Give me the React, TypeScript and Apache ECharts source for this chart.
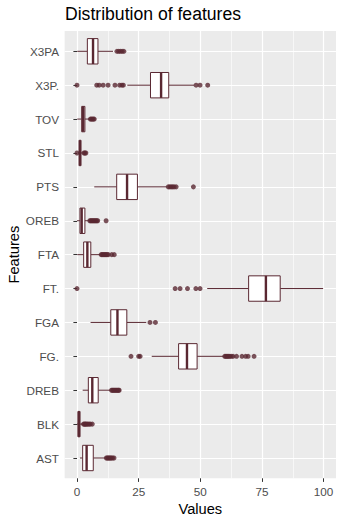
import React, { useEffect, useRef } from "react";
import * as echarts from "echarts";

const categories = ["AST", "BLK", "DREB", "FG.", "FGA", "FT.", "FTA", "OREB", "PTS", "STL", "TOV", "X3P.", "X3PA"];
const whiskerLow = [1.2, 0, 2.3, 30.3, 5.5, 52.8, 0.1, 0, 7.0, 0.4, 0.1, 20.4, 0.1];
const q1 = [2.3, 0.4, 4.6, 41.2, 13.7, 69.6, 2.7, 1.2, 16.1, 0.9, 1.9, 29.8, 4.2];
const median = [3.9, 0.8, 6.2, 44.6, 16.4, 76.6, 4.2, 1.9, 20.3, 1.2, 2.5, 34.1, 6.5];
const q3 = [6.6, 1.2, 8.6, 48.7, 20.2, 82.4, 5.6, 3.2, 24.5, 1.6, 3.2, 37.2, 8.5];
const whiskerHigh = [11.4, 2.3, 13.6, 59.5, 28.1, 99.8, 9.5, 4.8, 36.4, 2.6, 5.1, 47.5, 14.6];
const outliers: number[][] = [
  [11.9, 12.3, 12.7, 13.1, 13.5, 13.9, 14.4, 15.0],
  [2.6, 3.0, 3.3, 3.6, 4.0, 4.4, 4.9, 5.4, 6.2],
  [14.0, 14.4, 14.8, 15.2, 15.6, 16.0, 16.4, 16.8, 17.1],
  [21.9, 25.0, 25.6, 59.9, 60.3, 60.7, 61.1, 61.5, 62.0, 62.6, 63.3, 64.7, 66.9, 68.4, 69.4, 71.8],
  [29.6, 31.8],
  [0, 39.8, 41.8, 44.8, 48.2, 49.9],
  [9.8, 10.2, 10.6, 11.0, 11.4, 11.8, 12.2, 12.7, 14.1, 15.1],
  [5.2, 5.6, 6.0, 6.4, 6.8, 7.2, 7.6, 8.0, 8.4, 11.8],
  [37.0, 37.6, 38.2, 38.8, 39.4, 40.2, 47.2],
  [0, 2.8, 3.2, 3.6],
  [5.4, 5.8, 6.2, 6.6, 7.0],
  [0, 8.0, 9.0, 10.6, 12.6, 15.4, 17.3, 18.2, 18.8, 48.3, 49.9, 53.0],
  [16.2, 16.9, 17.6, 18.3, 19.0],
];
const xTicks = [0, 25, 50, 75, 100];

const COLOR = "#5A2832";
const FONT = "Liberation Sans, Arial, sans-serif";

export default function App() {
  const ref = useRef<HTMLDivElement>(null);
  useEffect(() => {
    if (!ref.current) return;
    const chart = echarts.init(ref.current, undefined, { renderer: "svg" });
    const half = 12.7;
    const option: any = {
      animation: false,
      backgroundColor: "#ffffff",
      title: {
        text: "Distribution of features",
        left: 65,
        top: 5,
        padding: 0,
        textStyle: { fontSize: 17.6, fontWeight: "normal", color: "#000", fontFamily: FONT },
      },
      graphic: [
        {
          type: "rect",
          z: -10,
          silent: true,
          shape: { x: 64.67, y: 31, width: 271.3, height: 447.3 },
          style: { fill: "#EBEBEB" },
        },
      ],
      grid: [
        { left: 64.67, right: 7.07, top: 51.3, bottom: 66, containLabel: false, outerBoundsMode: "none" },
        { left: 77, right: 19.4, top: 31, bottom: 45.7, containLabel: false, outerBoundsMode: "none" },
      ],
      xAxis: [
        { gridIndex: 0, type: "value", min: -5, max: 105, show: false },
        {
          gridIndex: 1,
          type: "value",
          min: xTicks[0],
          max: xTicks[xTicks.length - 1],
          interval: 25,
          axisLine: { show: false },
          axisTick: { show: true, length: 3.6, lineStyle: { color: "#333", width: 1 } },
          axisLabel: { margin: 7.5, color: "#4D4D4D", fontSize: 11.7, fontFamily: FONT },
          splitLine: { show: true, lineStyle: { color: "#fff", width: 1.2 } },
          minorTick: { show: false, splitNumber: 2 },
          minorSplitLine: { show: true, lineStyle: { color: "#fff", width: 0.6 } },
          name: "Values",
          nameLocation: "middle",
          nameGap: 23,
          nameMoveOverlap: false,
          nameTextStyle: { fontSize: 14.67, color: "#000", fontFamily: FONT },
        },
      ],
      yAxis: [
        {
          gridIndex: 0,
          type: "category",
          data: categories,
          boundaryGap: false,
          axisLine: { show: false },
          axisTick: { show: true, length: 3.6, lineStyle: { color: "#333", width: 1 } },
          axisLabel: { interval: 0, margin: 5.7, color: "#4D4D4D", fontSize: 11.7, fontFamily: FONT },
          splitLine: { show: true, interval: 0, lineStyle: { color: "#fff", width: 1.2 } },
          name: "Features",
          nameLocation: "middle",
          nameRotate: 90,
          nameGap: 43,
          nameMoveOverlap: false,
          nameTextStyle: { fontSize: 14.67, color: "#000", fontFamily: FONT },
        },
        { gridIndex: 1, type: "value", min: 0, max: 1, show: false },
      ],
      series: [
        {
          type: "custom",
          xAxisIndex: 0,
          yAxisIndex: 0,
          encode: { x: [1, 2, 3, 4, 5], y: 0 },
          data: categories.map((c, i) => [i, whiskerLow[i], q1[i], median[i], q3[i], whiskerHigh[i]]),
          renderItem: (params: any, api: any) => {
            const idx = api.value(0);
            const lo = api.coord([api.value(1), idx]);
            const a = api.coord([api.value(2), idx]);
            const m = api.coord([api.value(3), idx]);
            const b = api.coord([api.value(4), idx]);
            const hi = api.coord([api.value(5), idx]);
            return {
              type: "group",
              children: [
                { type: "line", shape: { x1: lo[0], y1: lo[1], x2: a[0], y2: a[1] }, style: { stroke: COLOR, lineWidth: 1 } },
                { type: "line", shape: { x1: b[0], y1: b[1], x2: hi[0], y2: hi[1] }, style: { stroke: COLOR, lineWidth: 1 } },
                {
                  type: "rect",
                  shape: { x: a[0], y: a[1] - half, width: b[0] - a[0], height: 2 * half },
                  style: { fill: "#fff", stroke: COLOR, lineWidth: 1 },
                },
                {
                  type: "line",
                  shape: { x1: m[0], y1: m[1] - half, x2: m[0], y2: m[1] + half },
                  style: { stroke: COLOR, lineWidth: 2.4 },
                },
              ],
            };
          },
        },
        {
          type: "scatter",
          xAxisIndex: 0,
          yAxisIndex: 0,
          symbol: "circle",
          symbolSize: 5,
          itemStyle: { color: COLOR },
          data: outliers.flatMap((arr, i) => arr.map((v) => [v, i])),
        },
      ],
    };
    chart.setOption(option);
    return () => chart.dispose();
  }, []);
  return (
    <div
      ref={ref}
      style={{ position: "fixed", left: 0, top: 0, width: 343, height: 524, background: "#fff" }}
    />
  );
}
